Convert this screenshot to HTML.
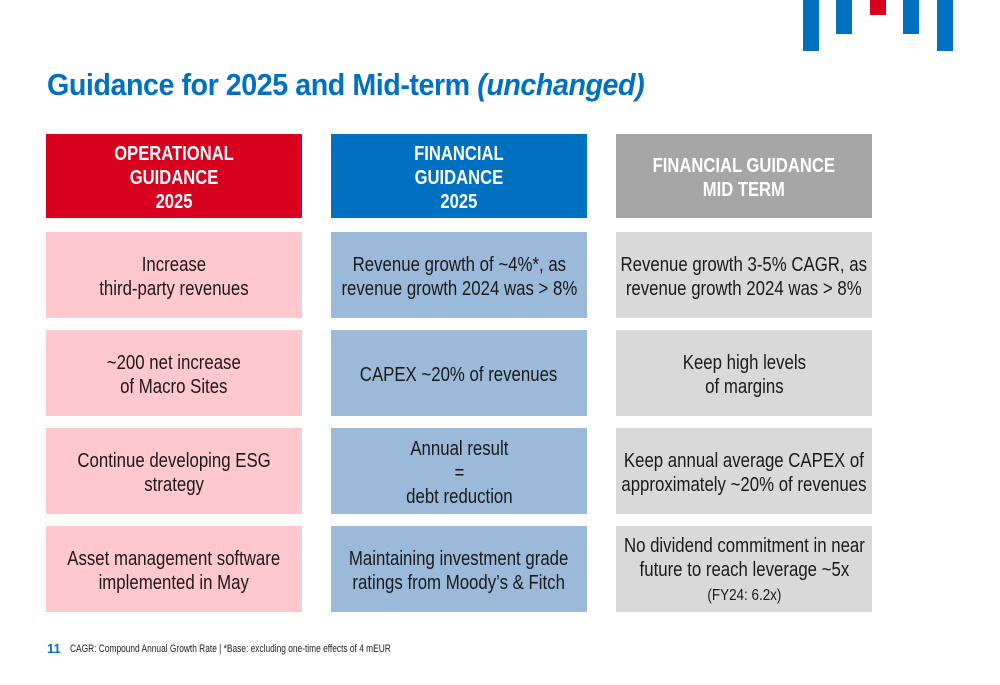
<!DOCTYPE html>
<html><head><meta charset="utf-8"><style>
body{margin:0;width:1000px;height:685px;background:#fff;position:relative;overflow:hidden;font-family:"Liberation Sans",sans-serif}
.bar{position:absolute;width:16px;background:#0070c0;top:0}
.title{position:absolute;left:47px;top:67px;font-weight:bold;font-size:31px;color:#0070c0;letter-spacing:-0.5px;white-space:nowrap;transform:scaleX(0.925);transform-origin:left}
.box{position:absolute;width:256px;display:flex;align-items:center;justify-content:center;text-align:center;font-size:20px;line-height:24px;color:#1a1a1a;box-sizing:border-box;padding-top:3px}
.box>div{white-space:nowrap;transform:scaleX(0.84)}
.hd>div{transform:scaleX(0.83)}
.hd{top:134px;height:84px;color:#fff;font-weight:bold;font-size:20px;line-height:24px}
.c1{left:46px}.c2{left:331px}.c3{left:616px}
.r1{top:232px;height:86px}.r2{top:330px;height:86px}.r3{top:428px;height:86px}.r4{top:526px;height:86px}
.p{background:#ffc7ce}.b{background:#9bbad9}.g{background:#d9d9d9}
.foot{position:absolute;left:70px;top:643px;font-size:11px;color:#222;white-space:nowrap;transform:scaleX(0.76);transform-origin:left}
.num{position:absolute;left:47px;top:641px;font-size:13px;font-weight:bold;color:#0070c0}
</style></head><body>
<div>
<div class="bar" style="left:803px;height:51px"></div>
<div class="bar" style="left:836px;height:34px"></div>
<div class="bar" style="left:870px;height:15px;background:#d7001e"></div>
<div class="bar" style="left:903px;height:34px"></div>
<div class="bar" style="left:937px;height:51px"></div>
</div>
<div class="title">Guidance for 2025 and Mid-term <i>(unchanged)</i></div>

<div class="box hd c1" style="background:#d7001e"><div>OPERATIONAL<br>GUIDANCE<br>2025</div></div>
<div class="box hd c2" style="background:#0070c0"><div>FINANCIAL<br>GUIDANCE<br>2025</div></div>
<div class="box hd c3" style="background:#a6a6a6"><div>FINANCIAL GUIDANCE<br>MID TERM</div></div>

<div class="box c1 r1 p"><div>Increase<br>third-party revenues</div></div>
<div class="box c1 r2 p"><div>~200 net increase<br>of Macro Sites</div></div>
<div class="box c1 r3 p"><div>Continue developing ESG<br>strategy</div></div>
<div class="box c1 r4 p"><div>Asset management software<br>implemented in May</div></div>

<div class="box c2 r1 b"><div>Revenue growth of ~4%*, as<br>revenue growth 2024 was &gt; 8%</div></div>
<div class="box c2 r2 b"><div>CAPEX ~20% of revenues</div></div>
<div class="box c2 r3 b"><div>Annual result<br>=<br>debt reduction</div></div>
<div class="box c2 r4 b"><div>Maintaining investment grade<br>ratings from Moody’s &amp; Fitch</div></div>

<div class="box c3 r1 g"><div>Revenue growth 3-5% CAGR, as<br>revenue growth 2024 was &gt; 8%</div></div>
<div class="box c3 r2 g"><div>Keep high levels<br>of margins</div></div>
<div class="box c3 r3 g"><div>Keep annual average CAPEX of<br>approximately ~20% of revenues</div></div>
<div class="box c3 r4 g"><div>No dividend commitment in near<br>future to reach leverage ~5x<br><span style="font-size:16px">(FY24: 6.2x)</span></div></div>

<div class="num">11</div>
<div class="foot">CAGR: Compound Annual Growth Rate | *Base: excluding one-time effects of 4 mEUR</div>
</body></html>
